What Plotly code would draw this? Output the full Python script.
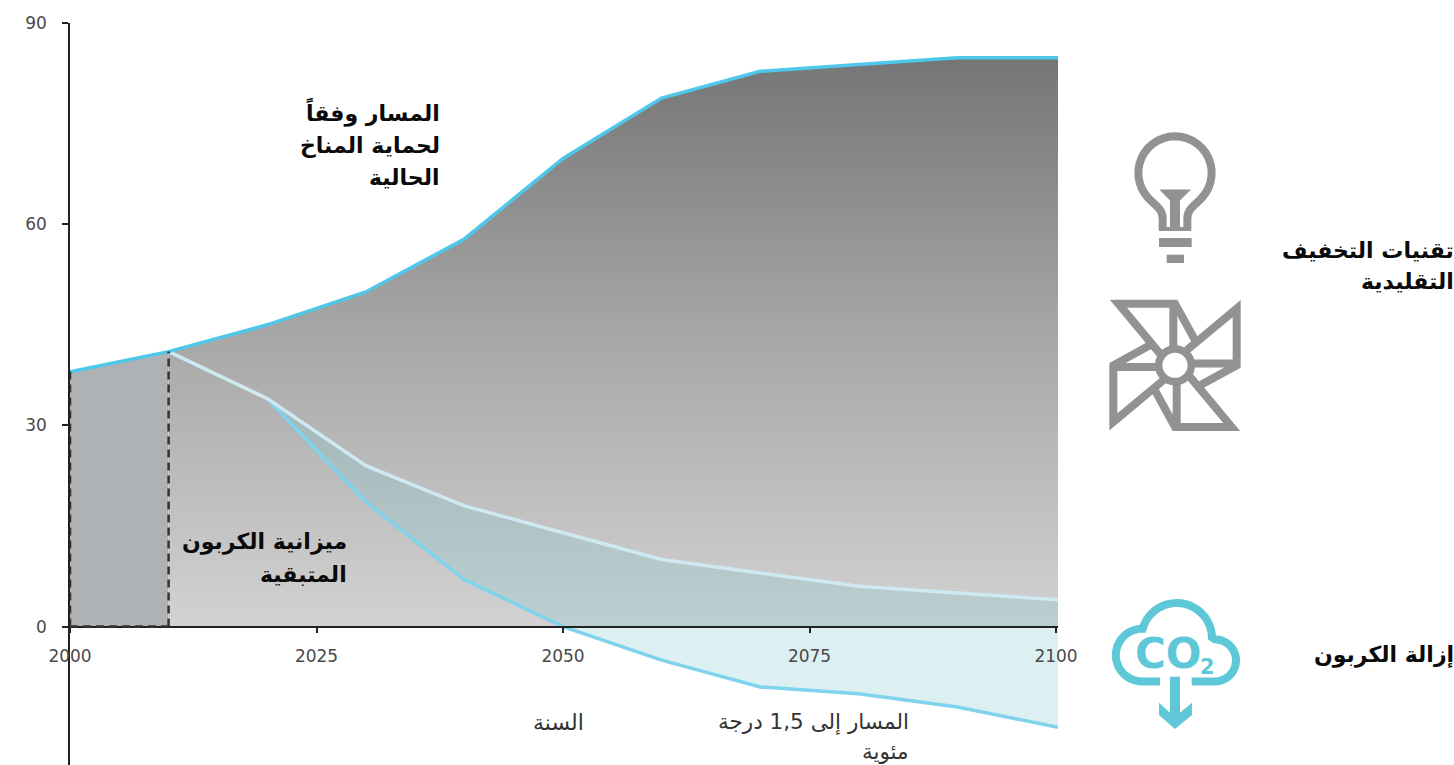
import math

import plotly.graph_objects as go

# Emissions pathways (GtCO2 per year)
years = [2000, 2010, 2020, 2030, 2040, 2050, 2060, 2070, 2080, 2090, 2100.2]
current_policy = [38, 41, 45, 49.9, 57.8, 69.8, 78.8, 82.8, 83.8, 84.8, 84.8]
mitigation_years = [2010, 2020, 2030, 2040, 2050, 2060, 2070, 2080, 2090, 2100.2]
mitigation = [41, 34, 24, 18, 14, 10, 8, 6, 5, 4]
path_years = [2020, 2030, 2040, 2050, 2060, 2070, 2080, 2090, 2100.2]
path_15 = [34, 18.6, 7, 0, -5, -9, -10, -12, -15]
x_ticks = [2000, 2025, 2050, 2075, 2100]
y_ticks = [0, 30, 60, 90]

# (text, right edge px, centre y px, size, weight, colour)
labels = [
    ("المسار وفقاً", 442, 112, 22, "bold", "#0a0a0a"),
    ("لحماية المناخ", 442, 145, 22, "bold", "#0a0a0a"),
    ("الحالية", 442, 177, 22, "bold", "#0a0a0a"),
    ("ميزانية الكربون", 349, 542, 22, "bold", "#0a0a0a"),
    ("المتبقية", 349, 574, 22, "bold", "#0a0a0a"),
    ("تقنيات التخفيف", 1456, 250, 22, "bold", "#0a0a0a"),
    ("التقليدية", 1456, 281, 22, "bold", "#0a0a0a"),
    ("إزالة الكربون", 1456, 655, 22, "bold", "#0a0a0a"),
    ("السنة", 586, 722, 22, "normal", "#333333"),
    ("المسار إلى 1,5 درجة", 911, 722, 21.5, "normal", "#333333"),
    ("مئوية", 911, 751, 21.5, "normal", "#333333"),
]

W, H = 1454, 765
L, R, T = 70, 1058, 22.5
ZERO_PX = 626.5
FONT = "DejaVu Sans"
GREY = "#929292"
TEAL = "#5ec8d8"


def px(x):
    return (x - L) / (R - L)


def py(y):
    return (H - y) / (H - T)


def arc_points(p0, r, large, sweep, p1, steps=28):
    """Sample a circular SVG-style arc into points."""
    (x0, y0), (x1, y1) = p0, p1
    dx, dy = (x1 - x0) / 2, (y1 - y0) / 2
    d = math.hypot(dx, dy)
    r = max(r, d)
    h = math.sqrt(max(r * r - d * d, 0))
    sign = 1 if large != sweep else -1
    cx = (x0 + x1) / 2 + sign * h * (-dy) / d
    cy = (y0 + y1) / 2 + sign * h * dx / d
    a0 = math.atan2(y0 - cy, x0 - cx)
    a1 = math.atan2(y1 - cy, x1 - cx)
    if sweep and a1 < a0:
        a1 += 2 * math.pi
    if not sweep and a1 > a0:
        a1 -= 2 * math.pi
    return [(cx + r * math.cos(a0 + (a1 - a0) * i / steps), cy + r * math.sin(a0 + (a1 - a0) * i / steps))
            for i in range(1, steps + 1)]


def path(cmds, ox, oy, scale=1 / 3):
    """Build a paper-referenced SVG path from commands given in icon units."""
    out = []
    cur = None

    def pt(x, y):
        return f"{px(ox + x * scale):.5f},{py(oy + y * scale):.5f}"

    for c in cmds:
        if c[0] == "A":
            _, r, large, sweep, x, y = c
            for q in arc_points(cur, r, large, sweep, (x, y)):
                out.append("L" + pt(*q))
            cur = (x, y)
        elif c[0] == "Z":
            out.append("Z")
        else:
            out.append(c[0] + " ".join(pt(c[i], c[i + 1]) for i in range(1, len(c), 2)))
            cur = (c[-2], c[-1])
    return " ".join(out)


def stroke_icon(cmds, ox, oy, colour, w):
    return dict(type="path", xref="paper", yref="paper", layer="above", path=path(cmds, ox, oy),
                line=dict(color=colour, width=w), fillcolor="rgba(0,0,0,0)")


def fill_icon(cmds, ox, oy, colour):
    return dict(type="path", xref="paper", yref="paper", layer="above", path=path(cmds, ox, oy),
                line=dict(width=0), fillcolor=colour)


fig = go.Figure()

# Budget already spent, 2000-2010
fig.add_trace(go.Scatter(x=years[:2], y=current_policy[:2], mode="none", fill="tozeroy",
                         fillcolor="#aeb2b5", hoverinfo="skip"))
# Area under the current policy pathway, shaded from dark at the top to light at the base
fig.add_trace(go.Scatter(x=years[1:], y=current_policy[1:], mode="none", fill="tozeroy", hoverinfo="skip",
                         fillcolor="#aaaaaa",
                         fillgradient=dict(type="vertical", start=85, stop=0,
                                           colorscale=[[0, "#757575"], [0.5, "#a8a8a8"], [1, "#d2d2d2"]])))
# Carbon removal band between the mitigation line and the 1.5 degree pathway
band_x = mitigation_years[1:] + path_years[::-1]
band_y = mitigation[1:] + path_15[::-1]
fig.add_trace(go.Scatter(x=band_x, y=band_y, mode="none", fill="toself",
                         fillcolor="rgba(130,201,208,0.28)", hoverinfo="skip"))

fig.add_trace(go.Scatter(x=path_years, y=path_15, mode="lines", line=dict(color="#7fd3ec", width=3.5), hoverinfo="skip"))
fig.add_trace(go.Scatter(x=mitigation_years, y=mitigation, mode="lines", line=dict(color="#cfe9f2", width=3.5), hoverinfo="skip"))
fig.add_trace(go.Scatter(x=years, y=current_policy, mode="lines", line=dict(color="#4fc7ea", width=3.5), hoverinfo="skip"))

for tr in fig.data:
    tr.cliponaxis = False

shapes = []

# Dashed outline of the spent budget, drawn over the axis lines
dash = dict(color="#333333", width=2.5, dash="8px,5px")
shapes.append(dict(type="line", xref="x", yref="y", layer="above", x0=years[1], x1=years[1], y0=0, y1=current_policy[1], line=dash))
shapes.append(dict(type="line", xref="x", yref="y", layer="above", x0=years[0], x1=years[1], y0=0, y1=0, line=dash))
shapes.append(dict(type="line", xref="x", yref="y", layer="above", x0=years[0], x1=years[0], y0=0, y1=current_policy[0], line=dash))

# Light bulb
BX, BY = 1090, 120
shapes.append(stroke_icon([
    ("M", 218, 330), ("L", 218, 295), ("C", 218, 265, 195, 255, 175, 233),
    ("A", 110, 1, 1, 335, 233), ("C", 315, 255, 292, 265, 292, 295), ("L", 292, 330),
], BX, BY, GREY, 8))
shapes.append(fill_icon([("M", 207, 320), ("L", 303, 320), ("L", 303, 332), ("L", 207, 332), ("Z",)], BX, BY, GREY))
shapes.append(fill_icon([("M", 208, 207), ("L", 303, 207), ("L", 270, 240), ("L", 270, 320), ("L", 240, 320),
                         ("L", 240, 240), ("Z",)], BX, BY, GREY))
shapes.append(fill_icon([("M", 207, 353), ("L", 305, 353), ("L", 305, 380), ("L", 207, 380), ("Z",)], BX, BY, GREY))
shapes.append(fill_icon([("M", 230, 403), ("L", 282, 403), ("L", 282, 428), ("L", 230, 428), ("Z",)], BX, BY, GREY))


def rot(p, n, c=(255, 735)):
    x, y = p[0] - c[0], p[1] - c[1]
    for _ in range(n):
        x, y = -y, x
    return x + c[0], y + c[1]


# Pinwheel: one blade repeated four times around the hub
blade_outline = [(210, 700), (85, 550), (255, 550), (318, 665)]
blade_rib = [(250, 550), (250, 680)]
for n in range(4):
    pts = [rot(p, n) for p in blade_outline]
    shapes.append(stroke_icon([("M", *pts[0])] + [("L", *p) for p in pts[1:]], BX, BY, GREY, 8))
    rib = [rot(p, n) for p in blade_rib]
    shapes.append(stroke_icon([("M", *rib[0]), ("L", *rib[1])], BX, BY, GREY, 8))
hub_r = 49 / 3
hx, hy = BX + 255 / 3, BY + 735 / 3
shapes.append(dict(type="circle", xref="paper", yref="paper", layer="above",
                   x0=px(hx - hub_r), x1=px(hx + hub_r), y0=py(hy + hub_r), y1=py(hy - hub_r),
                   line=dict(color=GREY, width=7.5), fillcolor="white"))

# CO2 cloud with downward arrow
CX, CY = 1000, 580
shapes.append(stroke_icon([
    ("M", 480, 304), ("L", 425, 304), ("A", 79, 0, 1, 428, 146), ("A", 106, 0, 1, 636, 172), ("L", 645, 178),
    ("A", 63, 0, 1, 645, 304), ("L", 575, 304),
], CX, CY, TEAL, 8))
shapes.append(fill_icon([("M", 510, 290), ("L", 540, 290), ("L", 540, 398), ("L", 576, 368), ("L", 576, 405),
                         ("L", 525, 447), ("L", 477, 405), ("L", 477, 368), ("L", 510, 398), ("Z",)], CX, CY, TEAL))

annotations = [
    dict(text=t, x=px(x), y=py(y), xref="paper", yref="paper", xanchor="right", yanchor="middle",
         showarrow=False, font=dict(family=FONT, size=s, color=c, weight=700 if w == "bold" else 400))
    for t, x, y, s, w, c in labels
]
annotations.append(dict(text="CO", x=px(1168), y=py(653), xref="paper", yref="paper", xanchor="center", yanchor="middle",
                        showarrow=False, font=dict(family=FONT, size=42, color=TEAL, weight=700)))
annotations.append(dict(text="2", x=px(1207), y=py(667), xref="paper", yref="paper", xanchor="center", yanchor="middle",
                        showarrow=False, font=dict(family=FONT, size=21, color=TEAL, weight=700)))

tick_font = dict(family=FONT, size=17, color="#4a4a4a")
fig.update_layout(
    width=W, height=H, showlegend=False, paper_bgcolor="white", plot_bgcolor="white",
    margin=dict(l=L, r=W - R, t=T, b=0, pad=0),
    shapes=shapes, annotations=annotations,
    xaxis=dict(range=[2000, 2100.2], tickvals=x_ticks, ticks="outside", ticklen=6, tickwidth=1.5, tickcolor="#222",
               showgrid=False, zeroline=False, showline=True, linecolor="#222", linewidth=1.5,
               anchor="free", position=(H - ZERO_PX) / (H - T), tickfont=tick_font, ticklabelstandoff=8),
    yaxis=dict(range=[-(H - ZERO_PX) * 90 / (ZERO_PX - T), 90], tickvals=y_ticks, ticks="outside", ticklen=6,
               tickwidth=1.5, tickcolor="#222", showgrid=False, zeroline=False, showline=True, linecolor="#222",
               linewidth=1.5, tickfont=tick_font, ticklabelstandoff=12),
)

fig.write_html("out.html", config=dict(displayModeBar=False))
